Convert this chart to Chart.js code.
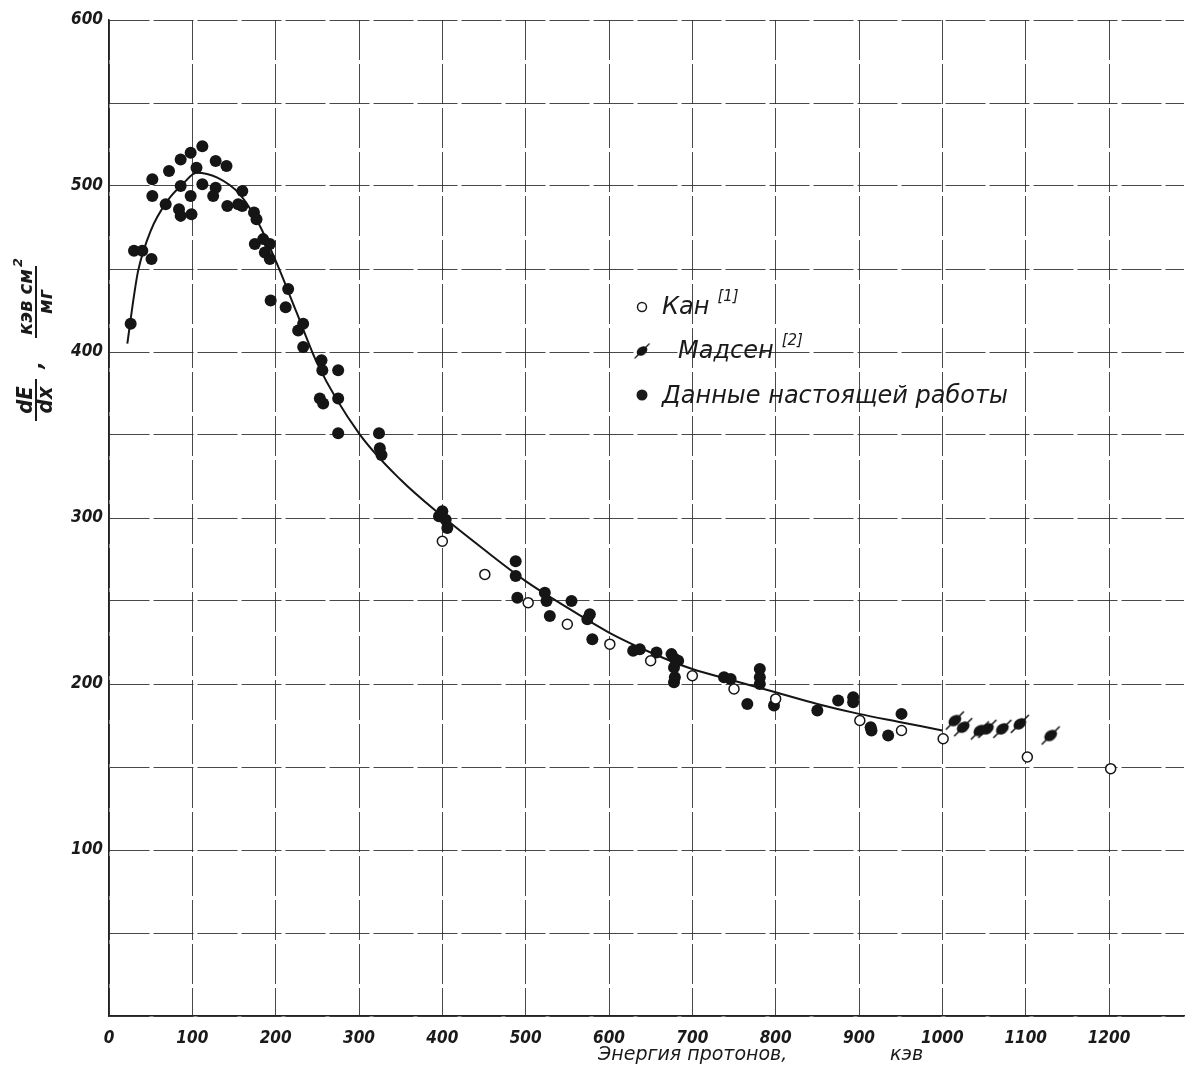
<!DOCTYPE html>
<html><head><meta charset="utf-8">
<script src="https://cdn.jsdelivr.net/npm/chart.js@4.4.1/dist/chart.umd.min.js"></script>
<style>html,body{margin:0;padding:0;background:#fff;}#wrap{width:1194px;height:1067px;}</style>
</head><body><div id="wrap"><canvas id="c" width="1194" height="1067"></canvas></div>
<script>
// ---- data ----
const xTickValues = [0,100,200,300,400,500,600,700,800,900,1000,1100,1200];
const yTickValues = [100,200,300,400,500,600];
const curveE = [22,30,35,50,70,90,105,130,157,180,200,225,250,300,350,400,450,500,550,600,650,700,750,800,850,900,950,1000];
const curveS = [405,434,449,473,491,502,508,505,495,477,455,424,393,351,323,301,281,262,246,231,219,209,202,195,188,182,177,172];
const kanE = [400,451,503,550,601,650,700,750,800,901,951,1001,1102,1202];
const kanS = [286,266,249,236,224,214,205,197,191,178,172,167,156,149];
const madsenE = [1015,1025,1045,1054,1072,1093,1130];
const madsenS = [178,174,172,173,173,176,169];
const workE = [112,98,86,72,52,128,141,105,52,86,112,128,125,98,68,84,86,99,142,160,155,160,174,177,175,185,193,187,193,30,40,51,26,194,215,212,227,233,233,255,256,275,253,257,275,275,324,325,327,396,400,404,406,488,488,490,523,525,555,529,577,574,580,629,637,657,675,679,683,678,679,678,738,746,781,781,781,766,798,850,875,893,893,914,915,935,951];
const workS = [524,520,516,509,504,515,512,511,494,500,501,499,494,494,489,486,482,483,488,497,489,488,484,480,465,468,465,460,456,461,461,456,417,431,438,427,413,417,403,395,389,389,372,369,372,351,351,342,338,301,304,299,294,274,265,252,255,250,250,241,242,239,227,220,221,219,218,215,214,210,204,201,204,203,209,204,200,188,187,184,190,192,189,174,172,169,182];
const legendNames = ['Кан','Мадсен','Данные настоящей работы'];
const legendRefs = ['[1]','[2]',''];
const xTitleParts = ['Энергия протонов,','кэв'];
const yTitleParts = {num1:'dE', den1:'dx', num2:'кэв см', sup2:'2', den2:'мг'};

const zip = (a,b) => a.map((v,i)=>({x:v,y:b[i]}));

// Madsen marker: filled tilted blob with a slash
function madsenMarker(){
  const c = document.createElement('canvas'); c.width = 24; c.height = 24;
  const g = c.getContext('2d');
  g.fillStyle = '#151515'; g.strokeStyle = '#151515';
  g.beginPath(); g.ellipse(12,12,7,5,-0.6,0,Math.PI*2); g.fill();
  g.lineWidth = 1.6; g.beginPath(); g.moveTo(3,21); g.lineTo(21,3); g.stroke();
  return c;
}
const mImg = madsenMarker();

const tickFont = {family:'"DejaVu Sans Condensed","Liberation Sans Narrow","DejaVu Sans",sans-serif', size:17, style:'italic', weight:'bold'};
const gridColor = 'rgba(40,40,40,0.85)';

const textPlugin = {
  id:'texts',
  afterDraw(chart){
    const ctx = chart.ctx;
    ctx.save();
    ctx.fillStyle = '#1a1a1a'; ctx.strokeStyle = '#1a1a1a';
    // legend
    const lx = 642, ly = [307, 351, 395];
    ctx.lineWidth = 1.5;
    ctx.beginPath(); ctx.arc(lx, ly[0], 4.5, 0, Math.PI*2); ctx.fillStyle='#fff'; ctx.fill(); ctx.stroke();
    ctx.drawImage(mImg, lx-10, ly[1]-10, 20, 20);
    ctx.fillStyle = '#1a1a1a';
    ctx.beginPath(); ctx.arc(lx, ly[2], 5.5, 0, Math.PI*2); ctx.fill();
    const tx = [662, 678, 662], tb = [314, 358, 403];
    ctx.textAlign = 'left'; ctx.textBaseline = 'alphabetic';
    legendNames.forEach((n,i)=>{
      ctx.font = 'italic 24px "DejaVu Sans"';
      ctx.fillText(n, tx[i], tb[i]);
      if (legendRefs[i]) {
        const w = ctx.measureText(n).width;
        ctx.font = 'italic 15px "DejaVu Sans"';
        ctx.fillText(legendRefs[i], tx[i]+w+8, tb[i]-13);
      }
    });
    // x title
    ctx.font = 'italic 19px "DejaVu Sans"';
    ctx.fillText(xTitleParts[0], 598, 1060);
    ctx.fillText(xTitleParts[1], 890, 1060);
    // y title (rotated)
    ctx.translate(36, 0); ctx.rotate(-Math.PI/2);
    ctx.textAlign = 'center';
    ctx.font = 'italic bold 22px "DejaVu Sans Condensed","DejaVu Sans"';
    ctx.fillText(yTitleParts.num1, -400, -4);
    ctx.fillText(yTitleParts.den1, -400, 16);
    ctx.lineWidth = 2;
    ctx.beginPath(); ctx.moveTo(-421,0); ctx.lineTo(-379,0); ctx.stroke();
    ctx.fillText(',', -365, 6);
    ctx.font = 'italic bold 20px "DejaVu Sans Condensed","DejaVu Sans"';
    ctx.fillText(yTitleParts.num2, -302, -4);
    const w2 = ctx.measureText(yTitleParts.num2).width;
    ctx.fillText(yTitleParts.den2, -302, 16);
    ctx.beginPath(); ctx.moveTo(-302-w2/2-3,0); ctx.lineTo(-302+w2/2+3,0); ctx.stroke();
    ctx.font = 'italic bold 13px "DejaVu Sans"';
    ctx.textAlign = 'left';
    ctx.fillText(yTitleParts.sup2, -302+w2/2+2, -14);
    ctx.restore();
  }
};

new Chart(document.getElementById('c'), {
  type:'scatter',
  data:{datasets:[
    {label:'Кан', data:zip(kanE,kanS), pointRadius:5, pointBackgroundColor:'#fff', pointBorderColor:'#151515', pointBorderWidth:1.5, order:1},
    {label:'Мадсен', data:zip(madsenE,madsenS), pointStyle:mImg, pointRadius:9, order:2},
    {label:'Данные настоящей работы', data:zip(workE,workS), pointRadius:6, pointBackgroundColor:'#151515', pointBorderWidth:0, order:3},
    {label:'curve', type:'line', data:zip(curveE,curveS), showLine:true, borderColor:'#151515', borderWidth:2, pointRadius:0, cubicInterpolationMode:'monotone', fill:false, order:4}
  ]},
  options:{
    responsive:false, animation:false, devicePixelRatio:1,
    layout:{padding:{left:0, top:20, right:4, bottom:0}},
    plugins:{legend:{display:false}, tooltip:{enabled:false}},
    scales:{
      x:{type:'linear', min:0, max:1290,
        afterBuildTicks(s){ s.ticks = xTickValues.map(v=>({value:v})); },
        afterFit(s){ s.height = 51; },
        ticks:{font:tickFont, color:'#1a1a1a', padding:12, maxRotation:0, autoSkip:false,
          callback:(v)=> String(v)},
        grid:{color:gridColor, lineWidth:1, drawTicks:false},
        border:{display:true, color:'#222', width:1.5, dash:[40,4]}
      },
      y:{type:'linear', min:0, max:600,
        afterBuildTicks(s){ const t=[]; for(let v=0; v<=600; v+=50) t.push({value:v}); s.ticks=t; },
        afterFit(s){ s.width = 109; },
        ticks:{font:tickFont, color:'#1a1a1a', padding:6,
          callback:(v)=> yTickValues.includes(v) ? String(v) : ''},
        grid:{color:gridColor, lineWidth:1, drawTicks:false},
        border:{display:true, color:'#222', width:1.5, dash:[40,4]}
      }
    }
  },
  plugins:[textPlugin]
});
</script></body></html>
